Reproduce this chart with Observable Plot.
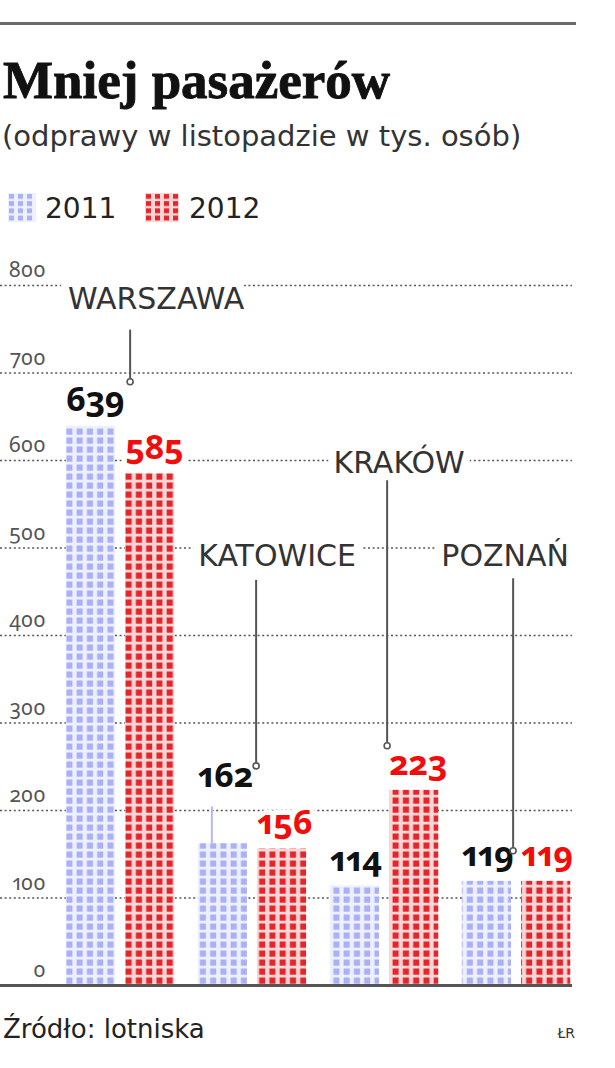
<!DOCTYPE html>
<html>
<head>
<meta charset="utf-8">
<script src="https://cdn.jsdelivr.net/npm/d3@7"></script>
<script src="https://cdn.jsdelivr.net/npm/@observablehq/plot@0.6"></script>
<style>
  html, body { margin: 0; padding: 0; background: #fff; }
  body { position: relative; width: 615px; height: 1068px; overflow: hidden; font-family: "DejaVu Sans", sans-serif; color: #222; }
  #rule { position: absolute; left: 0; top: 22px; width: 576px; height: 3px; background: #6a6a6a; }
  #title { position: absolute; left: 3px; top: 54px; font-family: "Liberation Serif", serif; font-weight: bold; font-size: 53px; line-height: 1; color: #111; white-space: nowrap; -webkit-text-stroke: 0.9px #111; }
  #subtitle { position: absolute; left: 2px; top: 122px; font-size: 29px; line-height: 1; color: #333; white-space: nowrap; }
  #legend { position: absolute; left: 0; top: 0; }
  .sw { position: absolute; top: 193px; }
  .lt { position: absolute; top: 195px; font-size: 28px; line-height: 1; color: #222; }
  #chart { position: absolute; left: 0; top: 240px; }
  #source { position: absolute; left: 3px; top: 1016px; font-size: 26px; line-height: 1; color: #222; white-space: nowrap; }
  #credit { position: absolute; right: 40px; top: 1026px; font-size: 14px; line-height: 1; color: #333; }
  .vals text, #chart svg g[aria-label="y-axis tick label"] text { font-variant-numeric: oldstyle-nums proportional-nums; font-feature-settings: "onum" 1, "pnum" 1; }
</style>
</head>
<body>
<div id="rule"></div>
<div id="title">Mniej pasażerów</div>
<div id="subtitle">(odprawy w listopadzie w tys. osób)</div>
<div id="legend"></div>
<div id="chart"></div>
<div id="source">Źródło: lotniska</div>
<div id="credit">ŁR</div>
<script>
// ---- data ----
const cities = ["WARSZAWA", "KATOWICE", "KRAKÓW", "POZNAŃ"];
const years = ["2011", "2012"];
const values2011 = [639, 162, 114, 119];
const values2012 = [585, 156, 223, 119];
const yTicks = [0, 100, 200, 300, 400, 500, 600, 700, 800];

// ---- annotation layout (data units on y, pixel nudges on x) ----
const cityLabelY = [784, 490, 597, 490];
const cityLabelDx = [36, 25, 15, -11];
const connectorDx = [10, 4, 3, -3];
const connectorTop = [749, 463, 577, 465];
const connectorBottom = [690, 251, 274, 154];
const labelLift2011 = [0, 48, 0, 0];

const colors = { "2011": "#aab0f6", "2012": "#e3262b" };
const bgs = { "2011": "#eef0fe", "2012": "#fbd6d6" };
const labelColors = { "2011": "#111111", "2012": "#f20d0d" };

const rows = [];
cities.forEach((c, i) => {
  rows.push({ city: c, i, year: "2011", value: values2011[i], key: c + "|2011", lift: labelLift2011[i] });
  rows.push({ city: c, i, year: "2012", value: values2012[i], key: c + "|2012", lift: 0 });
});
const r11 = rows.filter(d => d.year === "2011");
const r12 = rows.filter(d => d.year === "2012");

const W = 615, H = 760, mL = 51, mR = 30;
const step = (W - mL - mR) / rows.length;
const half = step / 2;
const inOuter = 11.75, inInner = 5;

const marks = [];
// gridlines
marks.push(Plot.ruleY(yTicks.filter(t => t > 0), {
  stroke: "#555", strokeWidth: 1.5, strokeDasharray: "2,2.6", insetLeft: -mL, insetRight: 13
}));
// bars
marks.push(Plot.barY(r11, { x: "key", y: "value", fill: "url(#pat2011)", insetLeft: inOuter, insetRight: inInner }));
marks.push(Plot.barY(r12, { x: "key", y: "value", fill: "url(#pat2012)", insetLeft: inInner, insetRight: inOuter }));
// leader for lifted label
marks.push(Plot.ruleX(r11.filter(d => d.lift > 0), {
  x: "key", y1: "value", y2: d => d.value + d.lift - 6, stroke: "#b4b8f8", strokeWidth: 2, dx: -(half - inOuter) + 14
}));
// value labels
const txt = { textAnchor: "start", lineAnchor: "bottom", dy: -15, fontSize: 34, fontWeight: "bold", fontFamily: "Noto Sans",
  stroke: "white", strokeWidth: 10, paintOrder: "stroke", strokeLinejoin: "round", className: "vals" };
marks.push(Plot.text(r11, { ...txt, x: "key", y: d => d.value + d.lift, text: d => String(d.value), dx: -(half - inOuter), fill: labelColors["2011"] }));
marks.push(Plot.text(r12, { ...txt, x: "key", y: "value", text: d => String(d.value), dx: -(half - inInner), fill: labelColors["2012"] }));
// city labels + connectors
cities.forEach((c, i) => {
  const k = c + "|2012";
  marks.push(Plot.text([{ k, c }], {
    x: "k", y: () => cityLabelY[i], text: "c", dx: cityLabelDx[i] - half, fontSize: 30, fill: "#333",
    lineAnchor: "middle", stroke: "white", strokeWidth: 16, paintOrder: "stroke", strokeLinejoin: "round"
  }));
  marks.push(Plot.ruleX([{ k }], { x: "k", y1: () => connectorTop[i], y2: () => connectorBottom[i], dx: connectorDx[i] - half, stroke: "#555", strokeWidth: 2 }));
  marks.push(Plot.dot([{ k }], { x: "k", y: () => connectorBottom[i], dx: connectorDx[i] - half, r: 3, stroke: "#555", strokeWidth: 1.6, fill: "white" }));
});
// baseline
marks.push(Plot.ruleY([0], { stroke: "#555", strokeWidth: 3, insetLeft: -mL, insetRight: 13 }));
// y axis labels
marks.push(Plot.axisY({ ticks: yTicks, tickSize: 0, tickPadding: 6, dy: -15, fontSize: 21, fontFamily: "Noto Sans", fill: "#555", label: null }));

const chart = Plot.plot({
  width: W, height: H,
  marginLeft: mL, marginRight: mR, marginTop: 45, marginBottom: 15,
  x: { type: "band", domain: rows.map(d => d.key), padding: 0, axis: null },
  y: { domain: [0, 800], axis: null },
  style: { fontFamily: "DejaVu Sans", background: "white", overflow: "visible" },
  marks
});

// patterns aligned with bars through the plot's own scales
const xs = chart.scale("x"), ys = chart.scale("y");
const y0 = ys.apply(0);
const defs = d3.select(chart).insert("defs", ":first-child");
const pw = step * 2 / 13, ph = 9;
function addPattern(id, bg, fg, x0) {
  const p = defs.append("pattern").attr("id", id).attr("patternUnits", "userSpaceOnUse")
    .attr("x", x0).attr("y", y0).attr("width", pw).attr("height", ph);
  p.append("rect").attr("width", pw).attr("height", ph).attr("fill", bg);
  p.append("rect").attr("x", 0.6).attr("y", 1.5).attr("width", pw - 4.2).attr("height", ph - 2.8).attr("fill", fg);
}
addPattern("pat2011", bgs["2011"], colors["2011"], xs.apply(r11[0].key) + inOuter);
addPattern("pat2012", bgs["2012"], colors["2012"], xs.apply(r12[0].key) + inInner);
document.getElementById("chart").appendChild(chart);

// legend
const legend = d3.select("#legend");
const items = [
  { year: years[0], sx: 8, sw: 28, tx: 45 },
  { year: years[1], sx: 145, sw: 34, tx: 189 }
];
items.forEach(it => {
  const s = legend.append("svg").attr("class", "sw").style("left", it.sx + "px").attr("width", it.sw).attr("height", 29);
  const d = s.append("defs");
  const p = d.append("pattern").attr("id", "lg" + it.year).attr("patternUnits", "userSpaceOnUse").attr("width", 9).attr("height", 7.2);
  p.append("rect").attr("width", 9).attr("height", 7.2).attr("fill", bgs[it.year]);
  p.append("rect").attr("x", 1).attr("y", 1).attr("width", 5).attr("height", 4.8).attr("fill", colors[it.year]);
  s.append("rect").attr("width", it.sw).attr("height", 29).attr("fill", "url(#lg" + it.year + ")");
  legend.append("div").attr("class", "lt").style("left", it.tx + "px").text(it.year);
});
</script>
</body>
</html>
